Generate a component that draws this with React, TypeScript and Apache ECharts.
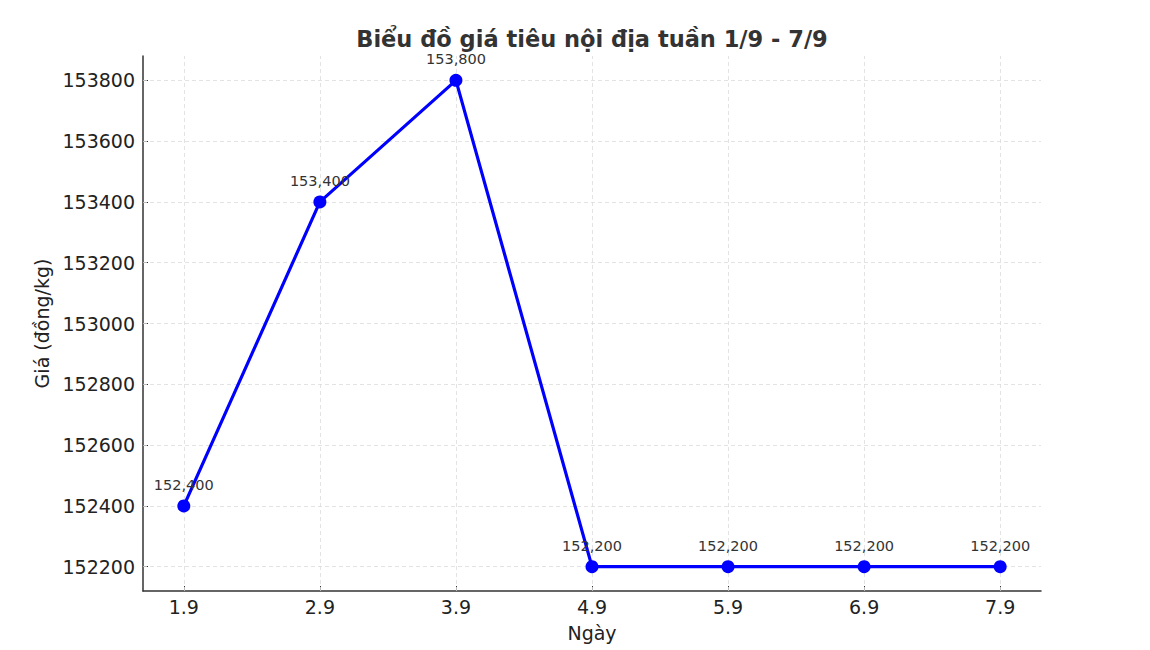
import React, { useEffect, useRef } from 'react'
import * as echarts from 'echarts'

const days = ['1.9', '2.9', '3.9', '4.9', '5.9', '6.9', '7.9']
const prices = [152400, 153400, 153800, 152200, 152200, 152200, 152200]
const yTicks = [152200, 152400, 152600, 152800, 153000, 153200, 153400, 153600, 153800]

const FONT = 'DejaVu Sans'
const AXIS = '#333333'

const App: React.FC = () => {
  const chartRef = useRef<HTMLDivElement>(null)

  useEffect(() => {
    if (!chartRef.current) return
    const chart = echarts.init(chartRef.current, undefined, { renderer: 'svg' })

    const xIdx = days.map((_, i) => i)

    const option: echarts.EChartsOption = {
      animation: false,
      backgroundColor: '#ffffff',
      textStyle: { fontFamily: FONT },
      title: {
        text: 'Biểu đồ giá tiêu nội địa tuần 1/9 - 7/9',
        left: 587,
        top: 22,
        textAlign: 'center',
        textStyle: { fontFamily: FONT, fontSize: 22.5, fontWeight: 'bold', color: '#333333' }
      },
      grid: { left: 143, right: 109, top: 56, bottom: 59 },
      xAxis: {
        type: 'value',
        min: -0.3,
        max: 6.3,
        name: 'Ngày',
        nameLocation: 'middle',
        nameGap: 32,
        nameTextStyle: { fontFamily: FONT, fontSize: 19, color: '#222222' },
        axisLine: { show: true, onZero: false, lineStyle: { color: AXIS, width: 1.5 } },
        axisTick: { show: true, inside: true, length: 5, customValues: xIdx, lineStyle: { color: AXIS } },
        axisLabel: {
          customValues: xIdx,
          margin: 6,
          fontFamily: FONT,
          fontSize: 19,
          color: '#222222',
          formatter: (v: number) => days[Math.round(v)] ?? ''
        },
        splitLine: { show: false }
      },
      yAxis: {
        type: 'value',
        min: 152120,
        max: 153880,
        name: 'Giá (đồng/kg)',
        nameLocation: 'middle',
        nameRotate: 90,
        nameGap: 86,
        nameTextStyle: { fontFamily: FONT, fontSize: 19, color: '#222222' },
        axisLine: { show: true, onZero: false, lineStyle: { color: AXIS, width: 1.5 } },
        axisTick: { show: true, inside: true, length: 5, customValues: yTicks, lineStyle: { color: AXIS } },
        axisLabel: {
          customValues: yTicks,
          margin: 8,
          fontFamily: FONT,
          fontSize: 19,
          color: '#222222',
          formatter: (v: number) => String(v)
        },
        splitLine: { show: false }
      },
      series: [
        {
          // grid lines only
          type: 'line',
          data: [],
          silent: true,
          z: 1,
          markLine: {
            silent: true,
            symbol: 'none',
            label: { show: false },
            lineStyle: { color: '#dcdcdc', type: [4, 3], width: 0.8 },
            data: [
              ...xIdx.map((x) => ({ xAxis: x })),
              ...yTicks.map((y) => ({ yAxis: y }))
            ]
          }
        },
        {
          type: 'line',
          data: prices.map((p, i) => [i, p]),
          symbol: 'circle',
          symbolSize: 13,
          z: 5,
          lineStyle: { color: '#0000ff', width: 3.2 },
          itemStyle: { color: '#0000ff', borderWidth: 0 },
          label: {
            show: true,
            position: 'top',
            distance: 7,
            fontFamily: FONT,
            fontSize: 14.5,
            color: '#333333',
            formatter: (p: any) => Number(p.value[1]).toLocaleString('en-US')
          }
        }
      ]
    }

    chart.setOption(option)
    return () => chart.dispose()
  }, [])

  return <div ref={chartRef} style={{ position: 'fixed', left: 0, top: 0, width: 1150, height: 650 }} />
}

export default App
